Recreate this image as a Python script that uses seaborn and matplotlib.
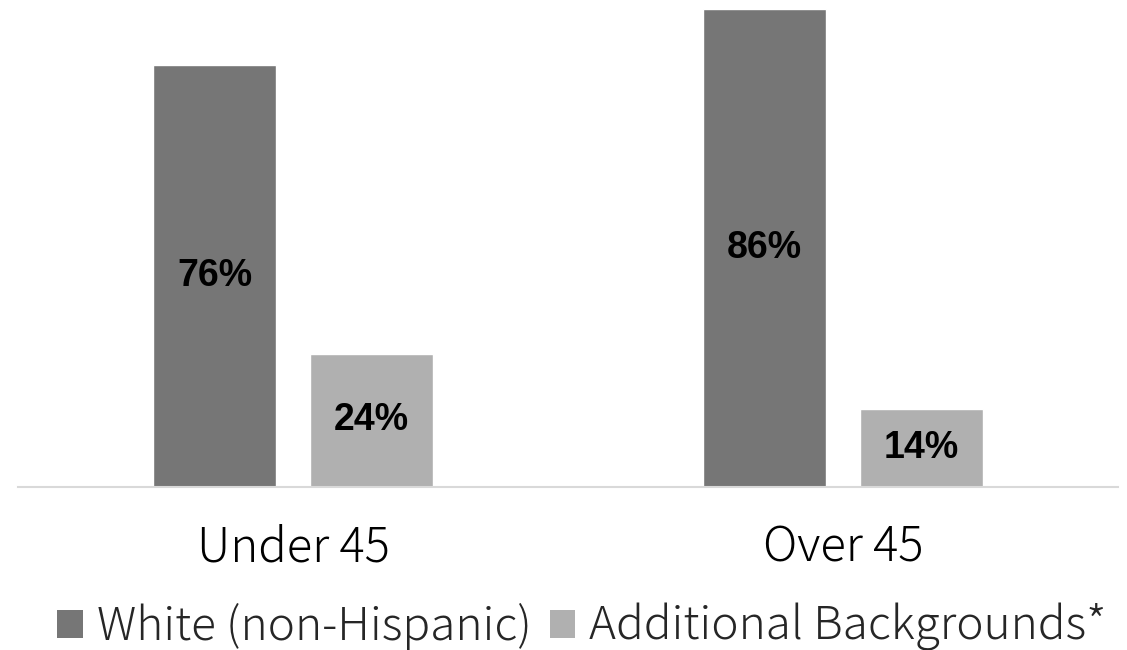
import numpy as np
import pandas as pd
import seaborn as sns
import matplotlib.pyplot as plt
from matplotlib.patches import Patch

groups = ['Under 45', 'Over 45']
series = ['White (non-Hispanic)', 'Additional Backgrounds*']
white = [76, 86]
additional = [24, 14]
colors = ['#767676', '#b0b0b0']

df = pd.DataFrame({
    'group': groups * 2,
    'series': [series[0]] * 2 + [series[1]] * 2,
    'value': white + additional,
})

sns.set_style('white')
plt.rcParams['font.family'] = ['Noto Sans CJK JP', 'DejaVu Sans']

fig = plt.figure(figsize=(11.27, 6.5), dpi=100)
ax = fig.add_axes([18 / 1127, 1 - 487 / 650, 1100 / 1127, 487 / 650])

sns.barplot(data=df, x='group', y='value', hue='series', palette=colors,
            width=0.571, gap=0.217, saturation=1, legend=False, ax=ax)

for cont in ax.containers:
    ax.bar_label(cont, labels=[f'{v:.0f}%' for v in cont.datavalues],
                 label_type='center', fontsize=27, fontweight='bold',
                 family='Liberation Sans', color='black')

ax.set_xlim(-0.5, 1.5)
ax.set_ylim(0, 87.7)
ax.set_xlabel('')
ax.set_ylabel('')
ax.set_yticks([])
for side in ['top', 'left', 'right']:
    ax.spines[side].set_visible(False)
ax.spines['bottom'].set_color('#d9d9d9')
ax.spines['bottom'].set_linewidth(1.5)
ax.tick_params(axis='x', length=0, pad=26, labelsize=34, labelcolor='black')
for lbl in ax.get_xticklabels():
    lbl.set_fontweight('light')

handles = [Patch(facecolor=c, edgecolor='none') for c in colors]
leg = fig.legend(handles, series, loc='center', bbox_to_anchor=(582 / 1127, 1 - 627 / 650),
                 ncol=2, frameon=False, fontsize=33, handlelength=0.56, handleheight=0.56,
                 handletextpad=0.3, columnspacing=0.4, borderaxespad=0)
for t in leg.get_texts():
    t.set_fontweight('light')

fig.savefig('out.png', dpi=100)
